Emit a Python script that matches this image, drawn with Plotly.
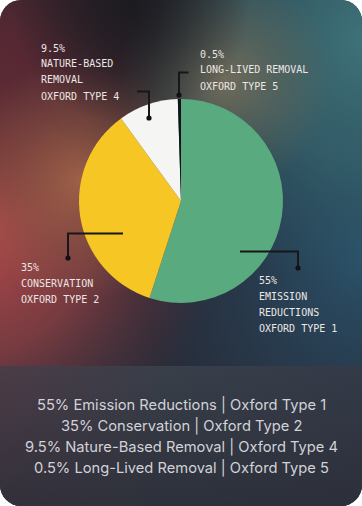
import base64
import plotly.graph_objects as go

# ---- data ----
values = [55, 35, 9.5, 0.5]
pct_labels = ["55%", "35%", "9.5%", "0.5%"]
names = ["Emission Reductions", "Conservation", "Nature-Based Removal", "Long-Lived Removal"]
oxford_types = [1, 2, 4, 5]
chart_label_lines = [
    ["55%", "EMISSION", "REDUCTIONS", "OXFORD TYPE 1"],
    ["35%", "CONSERVATION", "OXFORD TYPE 2"],
    ["9.5%", "NATURE-BASED", "REMOVAL", "OXFORD TYPE 4"],
    ["0.5%", "LONG-LIVED REMOVAL", "OXFORD TYPE 5"],
]
slice_colors = ["#5aaa7f", "#f5c624", "#f5f5f3", "#121418"]

W, H = 362, 506

# ---- layout helpers (pixel -> paper) ----
def px(x):
    return x / W

def py(y):
    return 1 - y / H

# label placement (text left x, first line y) and leader elbows
label_pos = [(256.5, 280), (18.5, 267), (38.5, 48), (197.5, 54)]
leaders = [
    [(240, 251.5), (298, 251.5), (298, 268)],
    [(123, 233.5), (68, 233.5), (68, 258)],
    [(137, 91.5), (149, 91.5), (149, 118)],
    [(188.5, 72.5), (179, 72.5), (179, 95)],
]

svg = f"""<svg xmlns='http://www.w3.org/2000/svg' width='{W}' height='{H}' viewBox='0 0 {W} {H}'>
<defs>
<clipPath id='card'><rect x='0' y='0' width='{W}' height='{H}' rx='21' ry='21'/></clipPath>
<linearGradient id='base' x1='0' y1='0' x2='0' y2='1'>
<stop offset='0' stop-color='#26232a'/><stop offset='1' stop-color='#27303f'/></linearGradient>
<radialGradient id='red' cx='-35' cy='230' r='255' gradientUnits='userSpaceOnUse'>
<stop offset='0' stop-color='#bb4c4c' stop-opacity='1'/><stop offset='0.5' stop-color='#9c4244' stop-opacity='0.68'/><stop offset='1' stop-color='#6a3038' stop-opacity='0'/></radialGradient>
<radialGradient id='maroon' cx='0' cy='55' r='165' gradientUnits='userSpaceOnUse'>
<stop offset='0' stop-color='#5a2834' stop-opacity='0.95'/><stop offset='1' stop-color='#55262f' stop-opacity='0'/></radialGradient>
<radialGradient id='teal' cx='370' cy='40' r='250' gradientUnits='userSpaceOnUse'>
<stop offset='0' stop-color='#3f737a' stop-opacity='1'/><stop offset='0.5' stop-color='#356670' stop-opacity='0.75'/><stop offset='1' stop-color='#2c5a6a' stop-opacity='0'/></radialGradient>
<radialGradient id='blue' cx='370' cy='260' r='230' gradientUnits='userSpaceOnUse'>
<stop offset='0' stop-color='#2a5670' stop-opacity='0.9'/><stop offset='1' stop-color='#2a4a64' stop-opacity='0'/></radialGradient>
<radialGradient id='olive' cx='225' cy='80' r='110' gradientUnits='userSpaceOnUse'>
<stop offset='0' stop-color='#76705c' stop-opacity='0.9'/><stop offset='1' stop-color='#6a6450' stop-opacity='0'/></radialGradient>
<radialGradient id='brown' cx='80' cy='180' r='120' gradientUnits='userSpaceOnUse'>
<stop offset='0' stop-color='#a86a4a' stop-opacity='0.8'/><stop offset='0.6' stop-color='#8a5c44' stop-opacity='0.35'/><stop offset='1' stop-color='#86604a' stop-opacity='0'/></radialGradient>
<radialGradient id='dark' cx='130' cy='5' r='120' gradientUnits='userSpaceOnUse'>
<stop offset='0' stop-color='#1c1b20' stop-opacity='0.97'/><stop offset='1' stop-color='#1c1b20' stop-opacity='0'/></radialGradient>
<linearGradient id='band' x1='0' y1='0' x2='1' y2='0'>
<stop offset='0' stop-color='#4c3c47'/><stop offset='0.45' stop-color='#383f49'/><stop offset='1' stop-color='#343a48'/></linearGradient>
<linearGradient id='bandshade' x1='0' y1='0' x2='0' y2='1'>
<stop offset='0' stop-color='#2a2c36' stop-opacity='0'/><stop offset='1' stop-color='#2a2c36' stop-opacity='0.75'/></linearGradient>
</defs>
<g clip-path='url(#card)'>
<rect width='{W}' height='{H}' fill='url(#base)'/>
<rect width='{W}' height='{H}' fill='url(#blue)'/>
<rect width='{W}' height='{H}' fill='url(#teal)'/>
<rect width='{W}' height='{H}' fill='url(#red)'/>
<rect width='{W}' height='{H}' fill='url(#maroon)'/>
<rect width='{W}' height='{H}' fill='url(#brown)'/>
<rect width='{W}' height='{H}' fill='url(#olive)'/>
<rect width='{W}' height='{H}' fill='url(#dark)'/>
<rect x='0' y='366' width='{W}' height='{H-366}' fill='url(#band)'/>
<rect x='0' y='366' width='{W}' height='{H-366}' fill='url(#bandshade)'/>
</g>
</svg>"""
svg_uri = "data:image/svg+xml;base64," + base64.b64encode(svg.encode()).decode()

# pie geometry
cx, cy, r = 181, 201, 102

fig = go.Figure(
    go.Pie(
        values=values,
        labels=names,
        marker=dict(colors=slice_colors, line=dict(width=0)),
        sort=False,
        direction="clockwise",
        rotation=0,
        textinfo="none",
        hoverinfo="label+percent",
        showlegend=False,
        domain=dict(x=[px(cx - r), px(cx + r)], y=[py(cy + r), py(cy - r)]),
    )
)

shapes = []
for pts in leaders:
    path = "M " + " L ".join(f"{px(x)},{py(y)}" for x, y in pts)
    shapes.append(dict(type="path", xref="paper", yref="paper", path=path,
                       line=dict(color="#17171a", width=2)))
    dx, dy = pts[-1]
    rr = 2.6
    shapes.append(dict(type="circle", xref="paper", yref="paper",
                       x0=px(dx - rr), x1=px(dx + rr), y0=py(dy + rr), y1=py(dy - rr),
                       fillcolor="#111114", line=dict(width=0)))

annotations = []
for lines, (lx, ly) in zip(chart_label_lines, label_pos):
    for i, t in enumerate(lines):
        annotations.append(dict(
            text=t, x=px(lx), y=py(ly + 16 * i), xref="paper", yref="paper",
            xanchor="left", yanchor="middle", showarrow=False,
            font=dict(family="DejaVu Sans Mono", size=10, color="#ece6e4"),
        ))

for i, (p, n, t) in enumerate(zip(pct_labels, names, oxford_types)):
    annotations.append(dict(
        text=f"{p} {n} | Oxford Type {t}", x=0.5, y=py(405 + 21 * i),
        xref="paper", yref="paper", xanchor="center", yanchor="middle",
        showarrow=False,
        font=dict(family="Inter", size=14.7, color="#d2d2d8"),
    ))

fig.update_layout(
    width=W, height=H,
    margin=dict(l=0, r=0, t=0, b=0),
    paper_bgcolor="#ffffff",
    plot_bgcolor="rgba(0,0,0,0)",
    images=[dict(source=svg_uri, xref="paper", yref="paper", x=0, y=1,
                 sizex=1, sizey=1, xanchor="left", yanchor="top",
                 sizing="stretch", layer="below")],
    shapes=shapes,
    annotations=annotations,
)

fig.write_html("out.html", config={"displayModeBar": False})
